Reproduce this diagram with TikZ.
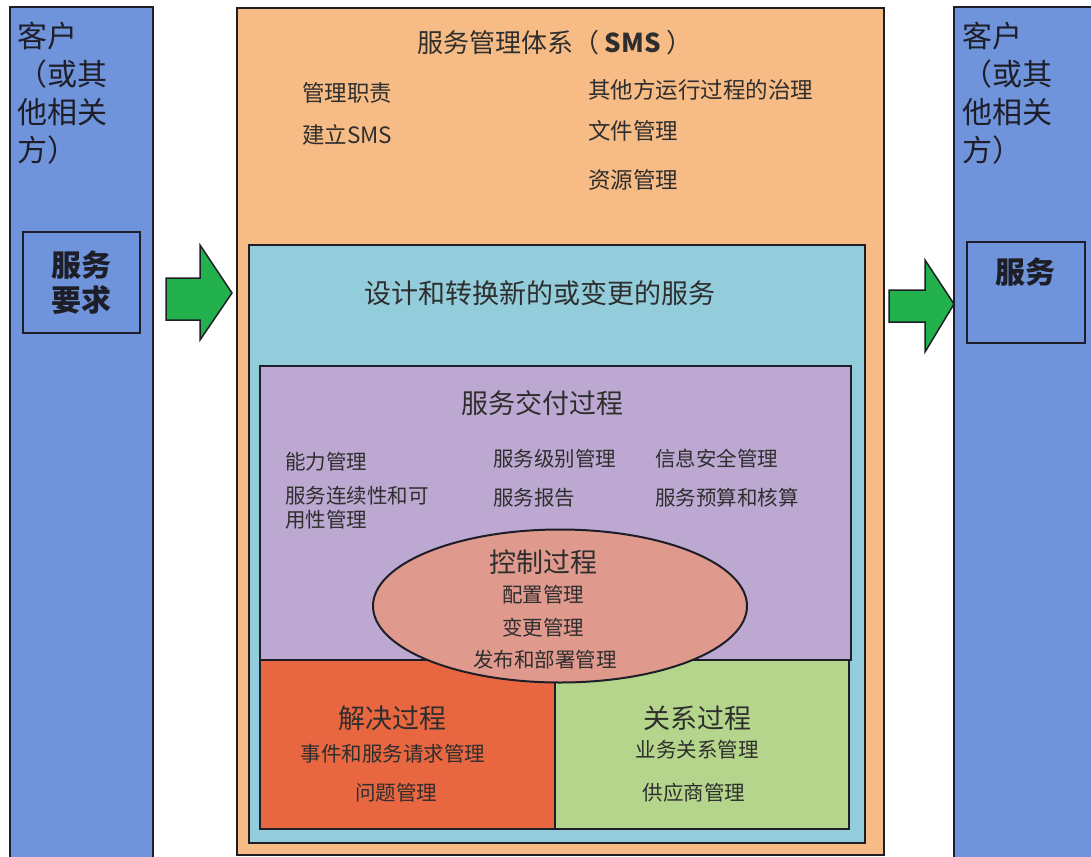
\documentclass[tikz,border=0pt]{standalone}
\usepackage{fontspec}
\setmainfont{Noto Sans CJK SC}
\usetikzlibrary{shapes.geometric}
\definecolor{colblue}{HTML}{6F94DB}
\definecolor{colorange}{HTML}{F7BC86}
\definecolor{colcyan}{HTML}{93CCDB}
\definecolor{colpurple}{HTML}{BCA8D1}
\definecolor{colpink}{HTML}{DF998D}
\definecolor{colred}{HTML}{E86640}
\definecolor{colgreen}{HTML}{B4D58B}
\definecolor{colarrow}{HTML}{22B14C}
\definecolor{coltext}{HTML}{2E2E2E}
\definecolor{colline}{HTML}{1E1E28}
\tikzset{
  boxline/.style={draw=colline, line width=2pt},
  blockarrow/.style={fill=colarrow, draw=colline, line width=1.5pt, line join=miter},
  small/.style={font=\fontsize{20.5}{24}\selectfont, text=coltext, inner sep=0pt},
  mid/.style={font=\fontsize{22.5}{26}\selectfont, text=coltext, inner sep=0pt},
  head/.style={font=\fontsize{27}{30}\selectfont, text=coltext, inner sep=0pt},
  big/.style={font=\fontsize{30}{38}\selectfont, text=colline, inner sep=0pt, align=left},
}
\begin{document}
\begin{tikzpicture}[x=1pt,y=-1pt]
\useasboundingbox (0,0) rectangle (1091,856);
\clip (0,0) rectangle (1091,856);
\fill[white] (0,0) rectangle (1091,856);
% left column
\path[boxline, fill=colblue] (10,7) rectangle (153,870);
\node[big, anchor=north west] (lctext) at (17,22) {客户\\（或其\\他相关\\方）};
\node[boxline, fill=colblue, minimum width=117pt, minimum height=101pt, inner sep=0pt, align=center,
      font=\fontsize{30}{35}\selectfont\bfseries, text=colline] (req) at (81.5,282.5) {服务\\要求};
% right column
\path[boxline, fill=colblue] (954,7) rectangle (1100,870);
\node[big, anchor=north west] (rctext) at (962,22) {客户\\（或其\\他相关\\方）};
\path[boxline, fill=colblue] (967,242) rectangle (1085,343);
\node[font=\fontsize{30}{35}\selectfont\bfseries, text=colline, inner sep=0pt] (svc) at (1025,272) {服务};
% orange SMS box
\path[boxline, fill=colorange] (237,8) rectangle (884,855);
\node[font=\fontsize{26}{30}\selectfont, text=coltext, inner sep=0pt] (sms) at (555,43) {服务管理体系（\hspace{5pt}\textbf{SMS}\hspace{5pt}）};
\node[mid, anchor=west] (m1) at (302,93) {管理职责};
\node[mid, anchor=west] (m2) at (302,135) {建立SMS};
\node[mid, anchor=west] (m3) at (588,90) {其他方运行过程的治理};
\node[mid, anchor=west] (m4) at (588,131) {文件管理};
\node[mid, anchor=west] (m5) at (588,180) {资源管理};
% cyan box
\path[boxline, fill=colcyan] (249,245) rectangle (865,843);
\node[head] (design) at (540,293) {设计和转换新的或变更的服务};
% purple box
\path[boxline, fill=colpurple] (260,366) rectangle (851,660);
\node[head] (deliv) at (542,403) {服务交付过程};
\node[small, anchor=north west, align=left] (d1) at (285,452) {能力管理};
\node[small, anchor=north west, align=left] (d2) at (285,486) {服务连续性和可\\用性管理};
\node[small, anchor=north west] (d3) at (493,449) {服务级别管理};
\node[small, anchor=north west] (d4) at (493,488) {服务报告};
\node[small, anchor=north west] (d5) at (655,449) {信息安全管理};
\node[small, anchor=north west] (d6) at (655,488) {服务预算和核算};
% red and green boxes
\path[boxline, fill=colred] (260,660) rectangle (555,829);
\path[boxline, fill=colgreen] (555,660) rectangle (849,829);
\node[head] (resol) at (392,718) {解决过程};
\node[small] (r1) at (393,754) {事件和服务请求管理};
\node[small] (r2) at (396,793) {问题管理};
\node[head] (relat) at (697,718) {关系过程};
\node[small] (g1) at (697,750) {业务关系管理};
\node[small] (g2) at (694,793) {供应商管理};
% ellipse
\node[ellipse, boxline, fill=colpink, minimum width=374pt, minimum height=153pt, inner sep=0pt] (ctrl) at (560,606) {};
\node[head] (ctrlt) at (543,562) {控制过程};
\node[small] (c1) at (543,595) {配置管理};
\node[small] (c2) at (543,628) {变更管理};
\node[small] (c3) at (545,660) {发布和部署管理};
% arrows
\path[blockarrow] (166,278) -- (200,278) -- (200,245) -- (232,293) -- (200,340) -- (200,320) -- (166,320) -- cycle;
\path[blockarrow] (889,290) -- (925,290) -- (925,260) -- (954,304) -- (925,352) -- (925,322) -- (889,322) -- cycle;
\end{tikzpicture}
\end{document}
